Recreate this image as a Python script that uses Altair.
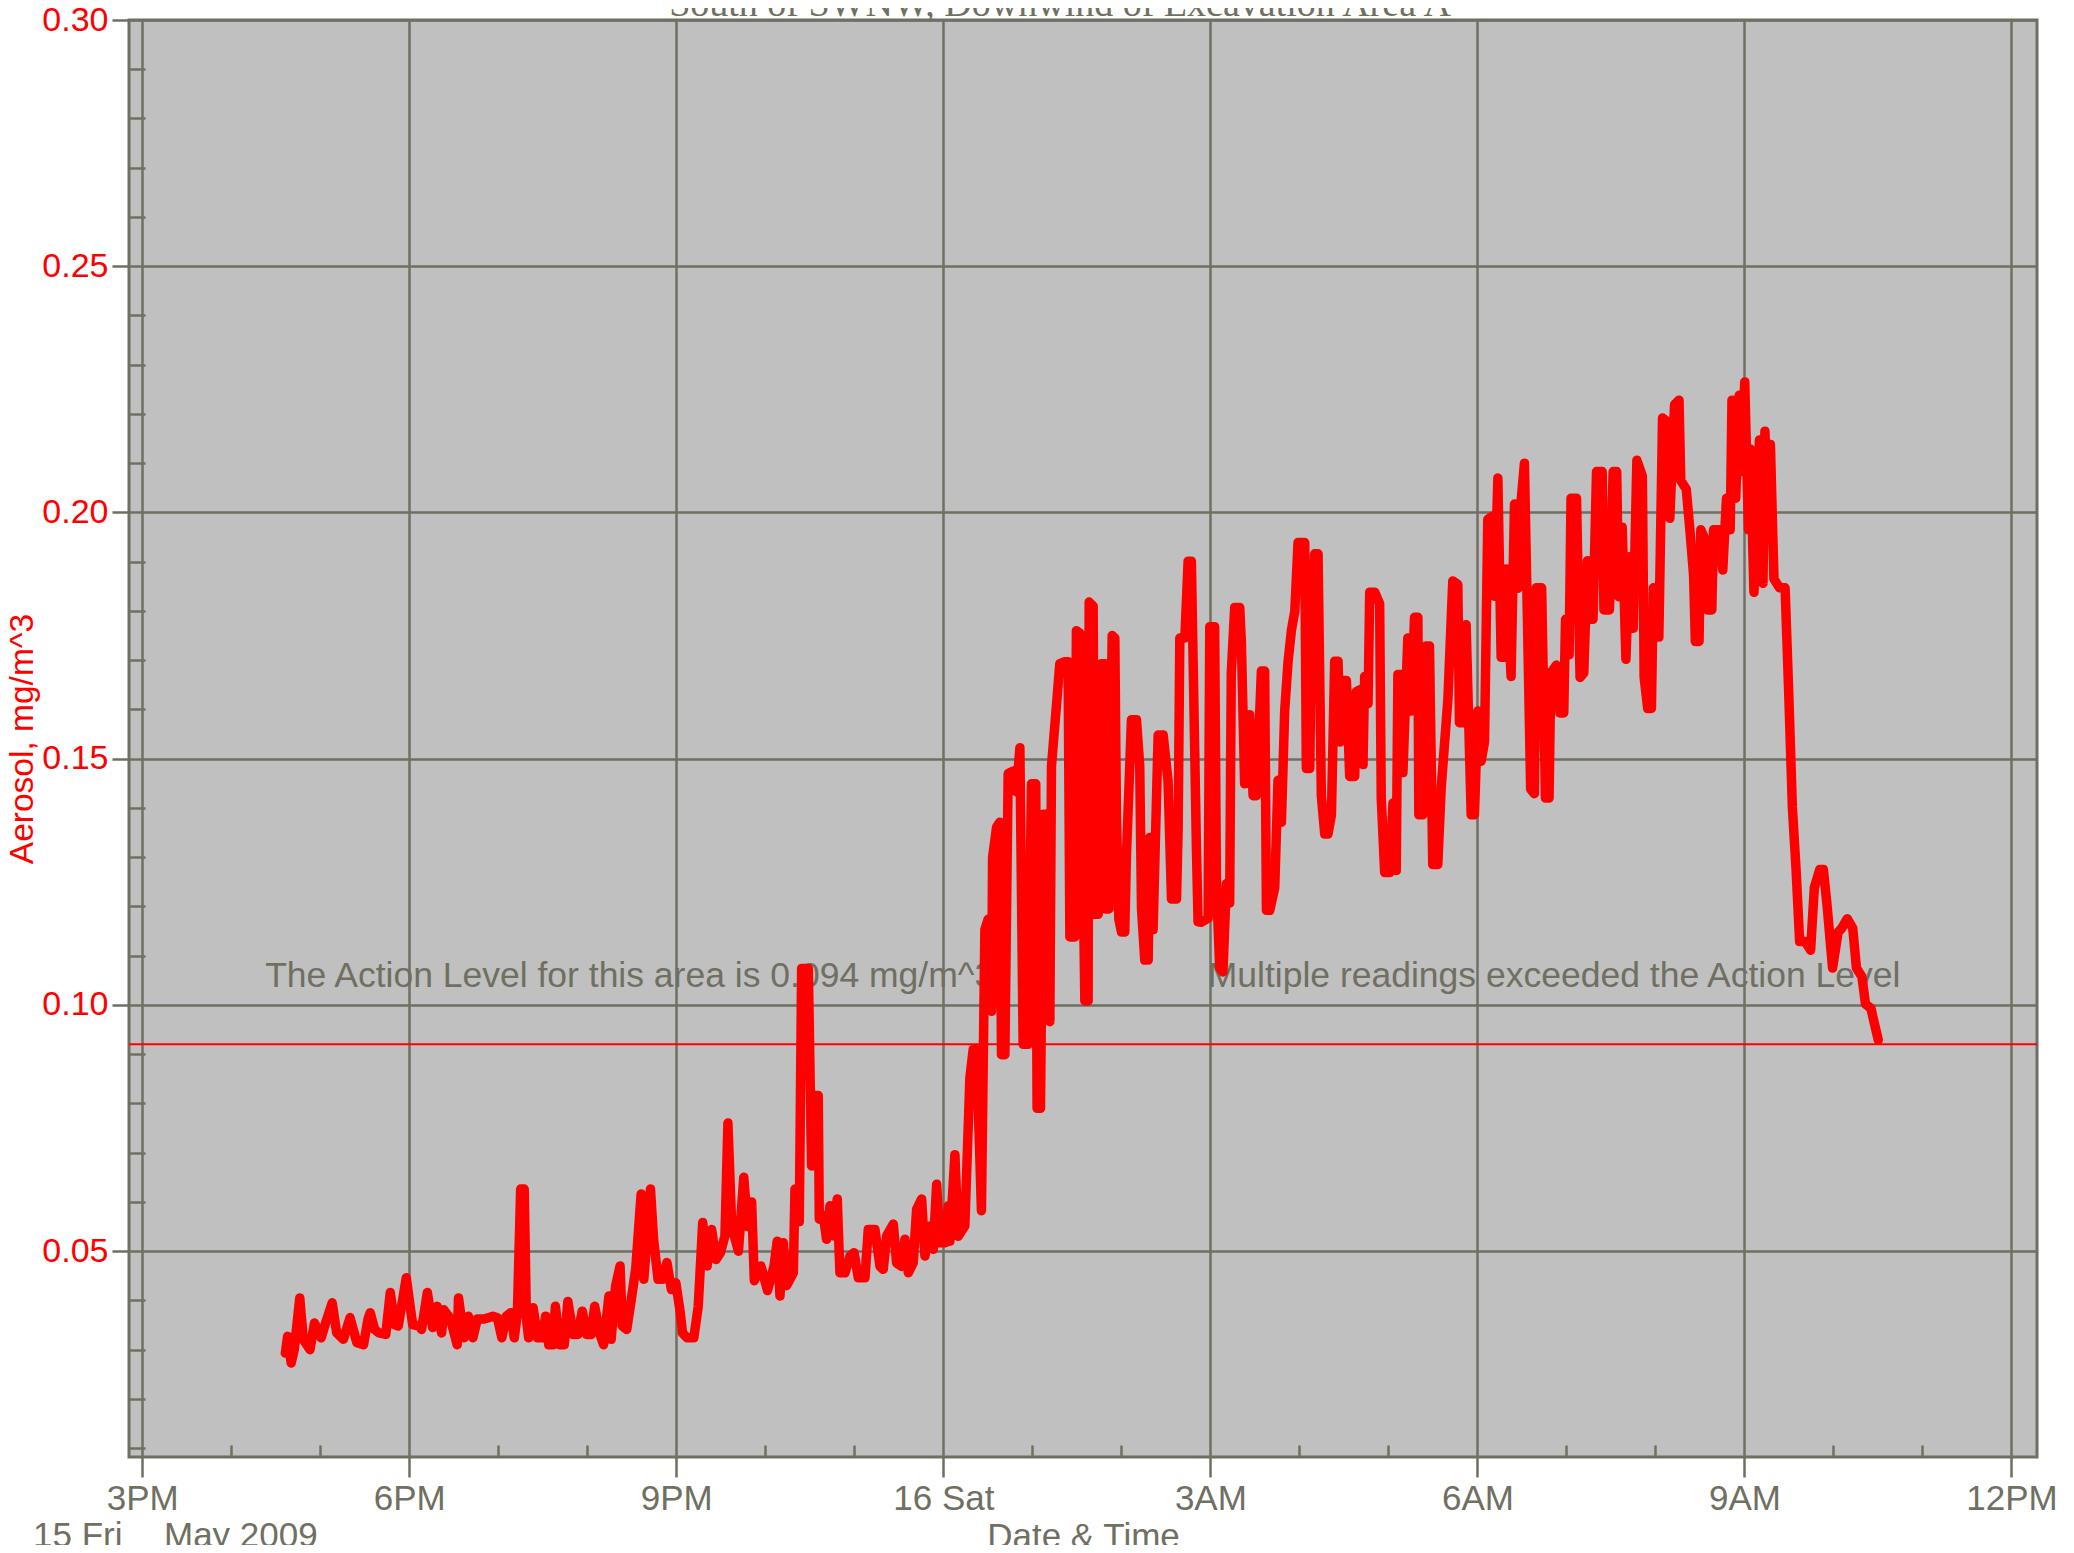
import altair as alt
import pandas as pd

# ---------------- data ----------------
# minutes after 15 May 2009 15:00
minutes = [
 96.5, 98.0, 100.4, 102.5, 106.2, 108.6, 113.1, 116.1, 120.6, 123.6, 128.1, 131.1, 135.6, 140.1, 144.7,
 149.2, 152.2, 153.7, 156.7, 159.7, 164.2, 167.2, 170.2, 172.6, 178.0, 182.3, 186.8, 188.3, 192.2, 195.8,
 198.8, 201.8, 203.3, 207.8, 212.3, 213.2, 216.9, 219.9, 222.9, 225.9, 230.4, 233.4, 236.4, 239.4, 242.4,
 245.4, 248.4, 250.8, 252.9, 255.1, 257.5, 259.0, 260.5, 263.5, 266.5, 269.5, 271.9, 274.0, 277.0, 278.5,
 281.5, 284.5, 286.9, 290.5, 293.6, 296.6, 299.6, 302.6, 305.0, 308.6, 311.0, 314.6, 316.1, 319.1, 322.1,
 323.6, 326.6, 329.7, 332.7, 336.3, 338.1, 340.2, 342.6, 344.7, 347.7, 350.7, 353.7, 356.7, 359.7, 362.7,
 364.2, 367.3, 371.8, 374.8, 377.8, 380.8, 383.8, 386.8, 389.8, 392.8,
 394.8, 397.4, 401.9, 405.5, 408.1, 410.8, 412.6, 417.0, 421.5, 425.9, 428.0,
 429.9, 432.1, 434.4, 438.9, 440.0, 442.9, 444.5, 449.0, 451.2, 453.5, 455.7, 456.4, 459.1, 461.3, 463.6,
 465.8, 468.5, 470.3, 473.7, 477.1, 479.8, 482.7, 487.2, 489.4, 493.9, 497.3, 499.5, 501.8, 506.3, 508.5,
 511.9, 514.1, 516.4, 519.7, 522.0, 525.4, 527.6, 531.0, 533.2, 535.5, 537.7, 541.1, 543.3,
 544.4, 547.8, 550.0, 554.5, 557.9, 560.1, 562.4, 565.7, 568.0, 570.2, 572.5, 573.2, 575.9, 578.1, 579.2,
 581.5, 583.7, 587.1, 589.3, 591.6, 593.8, 597.2, 599.4, 602.3, 603.2, 605.5, 607.3, 609.5, 611.8, 612.9,
 616.3, 618.5, 621.9, 624.1, 625.3, 628.6, 629.7, 632.0, 635.4, 637.6, 638.3, 641.0, 642.1, 644.4, 646.6,
 648.9, 649.3, 651.6, 653.8, 655.6, 656.7, 658.3, 660.1, 662.3, 663.4, 666.8, 670.2, 672.4, 673.6, 675.8,
 678.1, 679.2, 681.4, 684.8, 688.2, 691.5, 693.8, 697.2, 698.3, 699.4, 702.8, 705.0, 707.2, 710.6, 711.7,
 714.0, 718.5, 719.6, 722.9, 724.1, 726.3, 728.5, 730.8, 733.0, 734.1, 736.4, 739.8, 740.9, 743.1, 746.5,
 748.8, 751.0, 754.4, 756.6, 757.8, 760.0, 763.4, 765.6, 767.9, 770.1, 772.4, 774.6, 776.9, 779.1, 783.6,
 784.7, 787.0, 788.1, 790.3, 792.6, 794.8, 797.1, 799.3, 801.6, 803.8, 806.1, 807.2, 809.4, 811.7, 813.9,
 817.3, 818.4, 820.7, 822.9, 824.0, 826.3, 827.4, 830.8, 834.1, 835.2, 837.5, 840.8, 843.1, 845.3, 846.4,
 848.7, 849.8, 853.1, 855.4, 857.6, 859.9, 860.5, 863.2, 865.5, 867.7, 869.9, 873.3, 875.6, 880.1, 883.4,
 886.8, 887.9, 891.3, 892.4, 895.8, 898.0, 900.3, 902.5, 904.8, 907.0, 910.4, 911.5, 913.8, 916.0, 918.3,
 919.4, 922.7, 925.0, 927.2, 929.5, 931.7,
 935.9, 938.4, 939.7, 943.3, 945.9, 948.3, 949.5, 953.2, 955.7, 958.2, 959.4, 961.8, 963.1, 966.8, 969.2,
 971.7, 974.2, 976.6, 977.9, 980.3, 984.1, 985.3, 989.0, 991.5, 993.9, 995.2, 997.6, 1000.1, 1002.5, 1005.0,
 1007.5, 1011.2, 1012.4, 1014.8, 1017.3, 1018.6, 1022.3, 1024.8, 1028.5, 1029.7, 1032.9, 1035.9, 1037.1,
 1040.8, 1043.2, 1045.7, 1046.9, 1049.4, 1050.6, 1053.1, 1055.5, 1058.0, 1059.2, 1062.9, 1065.4, 1067.9,
 1070.4, 1071.6, 1074.1, 1076.5, 1077.8, 1080.2, 1082.7, 1083.9, 1086.4, 1090.1, 1092.5, 1093.8, 1096.2,
 1097.5, 1099.9, 1103.6, 1107.4, 1109.8, 1112.3, 1114.8, 1117.2, 1120.9, 1124.6, 1127.1, 1130.8, 1133.2,
 1135.7, 1139.4, 1143.1, 1145.6, 1149.3, 1153.0, 1155.5, 1159.2, 1161.6, 1165.3, 1166.6, 1170.2,
]
aerosol = [
 0.0293, 0.0327, 0.0273, 0.0300, 0.0405, 0.0321, 0.0300, 0.0354, 0.0324, 0.0354, 0.0395, 0.0334, 0.0321, 0.0365, 0.0314,
 0.0310, 0.0362, 0.0375, 0.0341, 0.0334, 0.0331, 0.0416, 0.0351, 0.0348, 0.0446, 0.0351, 0.0348, 0.0341, 0.0416, 0.0345,
 0.0388, 0.0334, 0.0381, 0.0362, 0.0310, 0.0405, 0.0324, 0.0368, 0.0324, 0.0362, 0.0362, 0.0365, 0.0368, 0.0365, 0.0324,
 0.0368, 0.0375, 0.0324, 0.0375, 0.0626, 0.0626, 0.0362, 0.0324, 0.0385, 0.0324, 0.0324, 0.0368, 0.0310, 0.0310, 0.0388,
 0.0310, 0.0310, 0.0398, 0.0331, 0.0331, 0.0378, 0.0331, 0.0331, 0.0388, 0.0331, 0.0310, 0.0409, 0.0321, 0.0429, 0.0470,
 0.0348, 0.0341, 0.0402, 0.0466, 0.0616, 0.0443, 0.0524, 0.0626, 0.0524, 0.0443, 0.0443, 0.0477, 0.0422, 0.0436, 0.0375,
 0.0334, 0.0324, 0.0324, 0.0388, 0.0558, 0.0470, 0.0544, 0.0483, 0.0497, 0.0531,
 0.0760, 0.0550, 0.0500, 0.0650, 0.0550, 0.0600, 0.0440, 0.0470, 0.0420, 0.0470, 0.0520,
 0.0409, 0.0517, 0.0430, 0.0456, 0.0626, 0.0560, 0.1074, 0.1074, 0.0673, 0.0816, 0.0816, 0.0565, 0.0572, 0.0524, 0.0592,
 0.0531, 0.0606, 0.0456, 0.0456, 0.0490, 0.0497, 0.0446, 0.0446, 0.0544, 0.0544, 0.0469, 0.0463, 0.0531, 0.0555, 0.0476,
 0.0469, 0.0524, 0.0456, 0.0476, 0.0585, 0.0606, 0.0490, 0.0551, 0.0504, 0.0636, 0.0517, 0.0517, 0.0592,
 0.0520, 0.0696, 0.0530, 0.0551, 0.0852, 0.0909, 0.0909, 0.0582, 0.1153, 0.1174, 0.0987, 0.1299, 0.1361, 0.1371, 0.0899,
 0.0899, 0.1470, 0.1475, 0.1433, 0.1522, 0.0920, 0.0920, 0.1449, 0.1449, 0.0790, 0.0790, 0.1387, 0.1387, 0.0966, 0.1485,
 0.1610, 0.1693, 0.1697, 0.1697, 0.1138, 0.1138, 0.1760, 0.1755, 0.1008, 0.1008, 0.1818, 0.1810, 0.1184, 0.1184, 0.1693,
 0.1693, 0.1195, 0.1195, 0.1750, 0.1745, 0.1382, 0.1174, 0.1148, 0.1148, 0.1299, 0.1579, 0.1579, 0.1485, 0.1195, 0.1091,
 0.1091, 0.1340, 0.1153, 0.1548, 0.1548, 0.1454, 0.1215, 0.1215, 0.1361, 0.1745, 0.1745, 0.1901, 0.1901, 0.1319, 0.1169,
 0.1168, 0.1176, 0.1768, 0.1768, 0.1246, 0.1075, 0.1067, 0.1246, 0.1207, 0.1674, 0.1807, 0.1807, 0.1737, 0.1449, 0.1589,
 0.1425, 0.1425, 0.1678, 0.1678, 0.1192, 0.1192, 0.1238, 0.1456, 0.1371, 0.1597, 0.1698, 0.1760, 0.1799, 0.1939, 0.1939,
 0.1480, 0.1480, 0.1752, 0.1916, 0.1916, 0.1425, 0.1347, 0.1347, 0.1386, 0.1698, 0.1698, 0.1534, 0.1659, 0.1659, 0.1464,
 0.1464, 0.1636, 0.1640, 0.1488, 0.1667, 0.1612, 0.1838, 0.1838, 0.1815, 0.1418, 0.1269, 0.1269, 0.1410, 0.1273, 0.1671,
 0.1671, 0.1472, 0.1745, 0.1597, 0.1787, 0.1787, 0.1386, 0.1386, 0.1729, 0.1729, 0.1285, 0.1285, 0.1441, 0.1620, 0.1861,
 0.1854, 0.1573, 0.1573, 0.1772, 0.1386, 0.1386, 0.1597, 0.1495, 0.1534, 0.1986, 0.1993, 0.1830, 0.2070, 0.1706, 0.1706,
 0.1885, 0.1667, 0.2017, 0.1846, 0.2025, 0.2100,
 0.1438, 0.1429, 0.1847, 0.1847, 0.1420, 0.1420, 0.1674, 0.1690, 0.1593, 0.1593, 0.1783, 0.1711, 0.2029, 0.2029, 0.1665,
 0.1674, 0.1902, 0.1783, 0.1783, 0.2083, 0.2083, 0.1802, 0.1802, 0.2083, 0.2083, 0.1829, 0.1970, 0.1702, 0.1910, 0.1765,
 0.2106, 0.2074, 0.1665, 0.1602, 0.1602, 0.1847, 0.1747, 0.2192, 0.2183, 0.1988, 0.2219, 0.2228, 0.2065,
 0.2047, 0.1965, 0.1874, 0.1738, 0.1738, 0.1965, 0.1947, 0.1802, 0.1802, 0.1965, 0.1965, 0.1883, 0.2029,
 0.1965, 0.2228, 0.2029, 0.2238, 0.2083, 0.2265, 0.1965, 0.2129, 0.1838, 0.2147, 0.1856, 0.2165, 0.1965,
 0.2138, 0.1865, 0.1847, 0.1847, 0.1638, 0.1402, 0.1275, 0.1129, 0.1129, 0.1111, 0.1238, 0.1275, 0.1275,
 0.1202, 0.1075, 0.1147, 0.1156, 0.1175, 0.1156, 0.1075, 0.1057, 0.1002, 0.0993, 0.0975, 0.0929,
]

action_level = [0.092]
title_text = ["South of SWNW, Downwind of Excavation Area A"]
notes = ["The Action Level for this area is 0.094 mg/m^3",
         "Multiple readings exceeded the Action Level"]
note_times = ["2009-05-15T16:22:52", "2009-05-16T02:58:14"]
note_values = [0.1036, 0.1036]
y_major = [0.05, 0.10, 0.15, 0.20, 0.25, 0.30]
y_minor = [round(0.01 * i, 2) for i in range(1, 30) if i % 5 != 0]
x_major_hours = [15, 18, 21, 24, 27, 30, 33, 36]
x_minor_hours = [h for h in range(15, 37) if h % 3 != 0]

# ---------------- build tables ----------------
base = pd.Timestamp("2009-05-15 15:00:00")
times = base + pd.to_timedelta(minutes, unit="m")
df = pd.DataFrame({"time": times.strftime("%Y-%m-%dT%H:%M:%S"), "aerosol": aerosol})
notes_df = pd.DataFrame({"time": note_times, "value": note_values, "text": notes})
rule_df = pd.DataFrame({"value": action_level})


def dt(h):
    day = 15 + h // 24
    return alt.DateTime(year=2009, month=5, date=int(day), hours=int(h % 24))


GRID = "#6f6f62"
TEXT = "#6f6f62"
RED = "#ff0000"
FONT = "Liberation Sans"
FS = 34
FSX = 35
W, H = 1908, 1437

x_scale = alt.Scale(domain=[alt.DateTime(year=2009, month=5, date=15, hours=14, minutes=51, seconds=6),
                            alt.DateTime(year=2009, month=5, date=16, hours=12, minutes=17, seconds=12)])
y_scale = alt.Scale(domain=[0.0082, 0.30], nice=False, zero=False)

x_major_axis = alt.Axis(
    orient="bottom", values=[dt(h) for h in x_major_hours], grid=True, gridColor=GRID, gridWidth=2.5,
    gridOpacity=1, domain=False, ticks=True, tickColor=GRID, tickWidth=2.5, tickSize=20,
    labelExpr="hours(datum.value) == 0 ? timeFormat(datum.value, '%-d %a') : timeFormat(datum.value, '%-I%p')",
    labelFont=FONT, labelFontSize=FSX, labelColor=TEXT, labelPadding=4, labelFlush=False,
    labelOverlap=False, labelBound=False,
    title="Date & Time", titleFont=FONT, titleFontSize=FSX, titleFontWeight="normal", titleColor=TEXT,
    titleX=W / 2, titleY=90, titleBaseline="alphabetic", titleAlign="center")
x_minor_axis = alt.Axis(
    orient="bottom", values=[dt(h) for h in x_minor_hours], grid=False, domain=False, labels=False,
    ticks=True, tickColor=GRID, tickWidth=2.5, tickSize=12, offset=-12, title=None)
y_major_axis = alt.Axis(
    orient="left", values=y_major, format=".2f", grid=True, gridColor=GRID, gridWidth=2.5, gridOpacity=1,
    domain=False, ticks=True, tickColor=GRID, tickWidth=2.5, tickSize=17,
    labelFont=FONT, labelFontSize=FS, labelColor=RED, labelPadding=4, labelOverlap=False, labelBound=False,
    title="Aerosol, mg/m^3", titleFont=FONT, titleFontSize=33.5, titleFontWeight="normal", titleColor=RED,
    titleAngle=270, titleX=-97, titleY=H / 2, titleBaseline="alphabetic", titleAlign="center")
y_minor_axis = alt.Axis(
    orient="left", values=y_minor, grid=False, domain=False, labels=False, ticks=True, tickColor=GRID,
    tickWidth=2.5, tickSize=16, offset=-16, title=None)

note_layer = alt.Chart(notes_df).mark_text(
    font=FONT, fontSize=35.5, color=TEXT, align="left", baseline="alphabetic"
).encode(
    x=alt.X("time:T", scale=x_scale, axis=x_minor_axis),
    y=alt.Y("value:Q", scale=y_scale, axis=None),
    text="text:N",
)

rule_layer = alt.Chart(rule_df).mark_rule(color=RED, strokeWidth=2).encode(
    y=alt.Y("value:Q", scale=y_scale, axis=y_minor_axis)
)

line_layer = alt.Chart(df).mark_line(
    color=RED, strokeWidth=9.5, strokeCap="round", strokeJoin="round"
).encode(
    x=alt.X("time:T", scale=x_scale, axis=x_major_axis),
    y=alt.Y("aerosol:Q", scale=y_scale, axis=y_major_axis),
)

title_layer = alt.Chart(pd.DataFrame({"t": title_text})).mark_text(
    font="Liberation Serif", fontSize=38, color=TEXT, align="center", baseline="alphabetic"
).encode(x=alt.value(931), y=alt.value(-4), text="t:N")

date1_layer = alt.Chart(pd.DataFrame({"t": ["15 Fri"]})).mark_text(
    font=FONT, fontSize=FSX, color=TEXT, align="left", baseline="alphabetic"
).encode(x=alt.value(-96), y=alt.value(1527), text="t:N")

date2_layer = alt.Chart(pd.DataFrame({"t": ["May 2009"]})).mark_text(
    font=FONT, fontSize=FSX, color=TEXT, align="left", baseline="alphabetic"
).encode(x=alt.value(35), y=alt.value(1527), text="t:N")

chart = alt.layer(
    note_layer, rule_layer, line_layer, title_layer, date1_layer, date2_layer
).resolve_axis(
    x="independent", y="independent"
).properties(
    width=W, height=H,
    autosize=alt.AutoSizeParams(type="none"),
    padding={"left": 121, "top": 12, "right": 29, "bottom": 88},
    background="white",
).configure_view(
    fill="#c0c0c0", stroke=GRID, strokeWidth=3
)

chart.save("out.html", embed_options={"renderer": "svg", "actions": False})
